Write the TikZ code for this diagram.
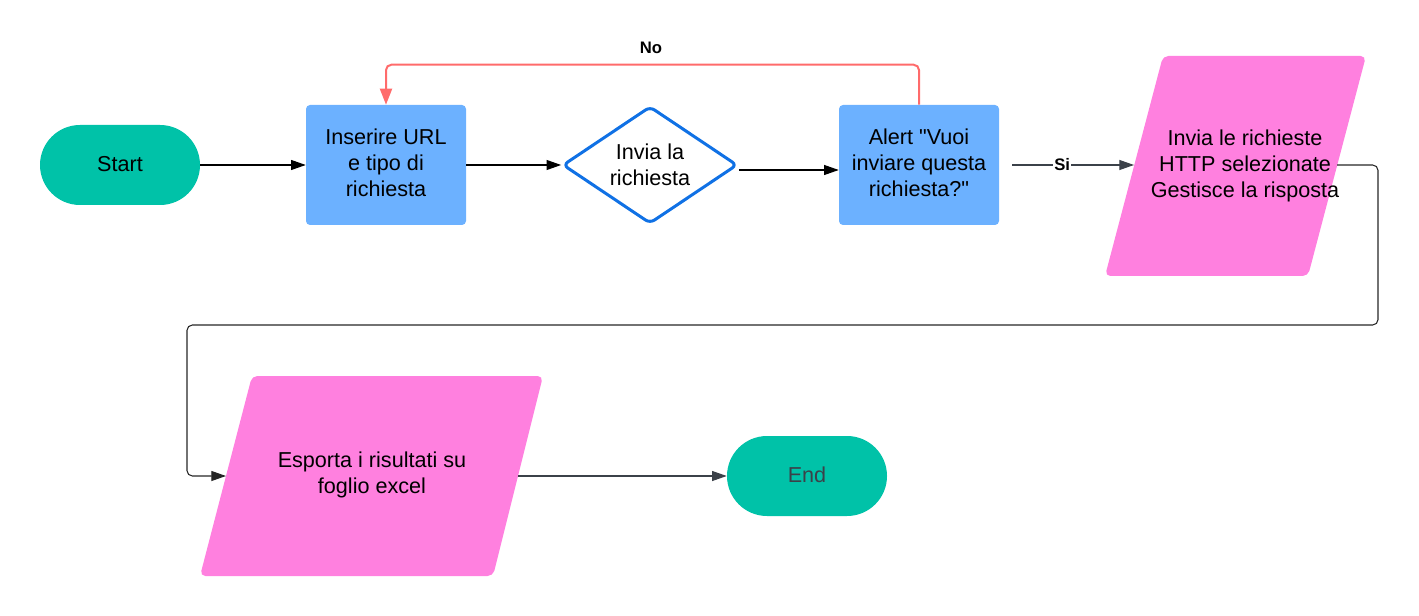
\documentclass[tikz,border=0pt]{standalone}
\usepackage{fontspec}
\setmainfont{Liberation Sans}[Ligatures=TeXOff]
\usetikzlibrary{arrows.meta,shapes.geometric,calc}
\definecolor{cTeal}{HTML}{00C2A8}
\definecolor{cBlue}{HTML}{6CB1FF}
\definecolor{cPink}{HTML}{FF80DF}
\definecolor{cDia}{HTML}{1071E5}
\definecolor{cRed}{HTML}{FF6B6B}
\definecolor{cGray}{HTML}{3B4149}
\begin{document}
\begin{tikzpicture}[x=0.75pt,y=-0.75pt,
  txt/.style={font=\fontsize{16.2}{19.5}\selectfont, align=center, text=black, inner sep=0pt},
  term/.style={txt, fill=cTeal, rounded corners=30pt, minimum width=120pt, minimum height=60pt},
  proc/.style={txt, fill=cBlue, rounded corners=3pt, minimum width=120pt, minimum height=90pt},
  dec/.style={txt, shape=diamond, draw=cDia, fill=white, line width=2.25pt, rounded corners=4pt,
              minimum width=131pt, minimum height=88pt, aspect=1.47},
  para/.style={fill=cPink, rounded corners=4pt},
  lbl/.style={font=\fontsize{12.5}{14}\selectfont\bfseries, text=black, inner sep=1pt},
  arr/.style={-{Triangle[length=11pt,width=7.5pt]}, line width=0.8pt, draw=black},
  garr/.style={-{Triangle[length=11pt,width=7.5pt]}, line width=0.8pt, draw=cGray},
  rarr/.style={-{Triangle[length=12pt,width=9pt]}, line width=1.5pt, draw=cRed}
]
\useasboundingbox (0,0) rectangle (1419,616);

% nodes
\node[term] (start) at (120,165) {\raisebox{2pt}{Start}};
\node[proc] (box1) at (386,165) {\raisebox{2pt}{\begin{tabular}{@{}c@{}}Inserire URL\\e tipo di\\richiesta\end{tabular}}};
\node[dec] (dia) at (650,165) {Invia la\\richiesta};
\node[proc] (box2) at (919,165) {\raisebox{2pt}{\begin{tabular}{@{}c@{}}Alert "Vuoi\\inviare questa\\richiesta?"\end{tabular}}};

\fill[para] (1163,56) -- (1366,56) -- (1308,276) -- (1105,276) -- cycle;
\coordinate (p1l) at (1134,165);
\coordinate (p1r) at (1337,165);
\node[txt] (p1) at (1245,166) {Invia le richieste\\HTTP selezionate\\Gestisce la risposta};

\fill[para] (252,376) -- (543,376) -- (493,576) -- (200,576) -- cycle;
\coordinate (p2l) at (226,476);
\coordinate (p2r) at (518,476);
\node[txt] (p2) at (372,475) {Esporta i risultati su\\foglio excel};

\node[term, text=cGray] (end) at (807,476) {\raisebox{2pt}{End}};

% connectors
\draw[arr] (start.east) -- (box1.west);
\draw[arr] (box1.east) -- (dia.west);
\draw[arr] ([yshift=-3.75pt]dia.east) -- ([yshift=-3.75pt]box2.west);
\draw[rarr, rounded corners=4pt] (box2.north) -- ++(0,-40) -| (box1.north);
\node[lbl] (nolbl) at (651,48) {No};
\draw[garr] ([xshift=9.75pt]box2.east) -- (p1l)
  node[pos=0.41, lbl, fill=white] (si) {Si};
\draw[arr, draw=black!85, rounded corners=4pt] (p1r) -- (1378,165) -- (1378,325) -- (187,325) -- (187,476) -- (p2l);
\draw[garr] (p2r) -- (end.west);
\end{tikzpicture}
\end{document}
